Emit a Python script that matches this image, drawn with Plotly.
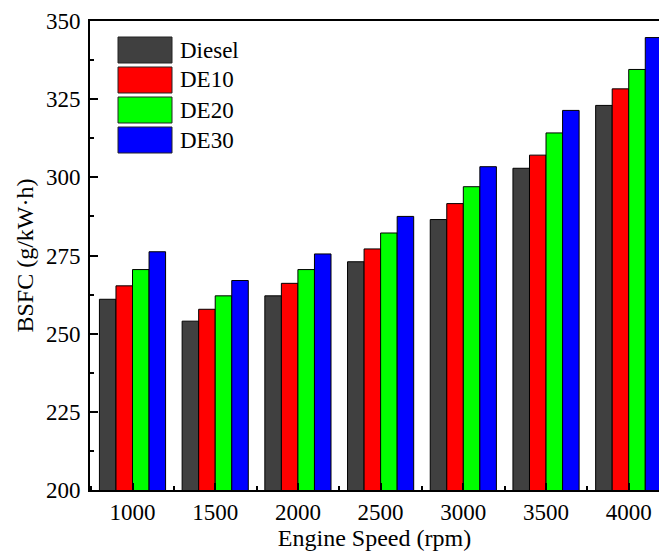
import plotly.graph_objects as go

speeds = ["1000", "1500", "2000", "2500", "3000", "3500", "4000"]
diesel = [261.0, 254.0, 262.1, 273.0, 286.5, 302.9, 323.0]
de10 = [265.3, 257.8, 266.1, 277.1, 291.6, 307.1, 328.3]
de20 = [270.5, 262.1, 270.5, 282.2, 297.0, 314.2, 334.5]
de30 = [276.2, 267.0, 275.5, 287.5, 303.4, 321.4, 344.7]
names = ["Diesel", "DE10", "DE20", "DE30"]
colors = ["#404040", "#ff0000", "#00ff00", "#0000ff"]
series = [diesel, de10, de20, de30]

xpos = list(range(len(speeds)))
font = "Liberation Serif, Times New Roman, serif"

fig = go.Figure()
for n, c, s in zip(names, colors, series):
    fig.add_trace(go.Bar(x=xpos, y=s, name=n, marker=dict(color=c, line=dict(color="#000000", width=1)),
                         showlegend=False))

# manual legend
shapes = []
annotations = []
leg_x0, leg_x1 = 118, 172
for i, (n, c) in enumerate(zip(names, colors)):
    y0 = 37 + i * 30
    shapes.append(dict(type="rect", xref="paper", yref="paper",
                       x0=(leg_x0 - 90) / 569, x1=(leg_x1 - 90) / 569,
                       y0=1 - (y0 + 26 - 21) / 469, y1=1 - (y0 - 21) / 469,
                       fillcolor=c, line=dict(color="#222222", width=1)))
    annotations.append(dict(xref="paper", yref="paper", x=(178 - 90) / 569, y=1 - (y0 + 13 - 21) / 469,
                            text=n, showarrow=False, xanchor="left", yanchor="middle",
                            font=dict(family=font, size=23, color="black")))

fig.update_layout(
    width=659, height=551,
    margin=dict(l=90, r=0, t=21, b=61),
    plot_bgcolor="white", paper_bgcolor="white",
    barmode="group", bargap=0.2, bargroupgap=0,
    font=dict(family=font, size=23, color="black"),
    shapes=shapes, annotations=annotations,
    xaxis=dict(range=[-0.514, 6.366], tickmode="array", tickvals=xpos, ticktext=speeds,
               showline=True, linecolor="black", linewidth=2, mirror=True,
               ticks="inside", ticklen=7, tickwidth=1.5, tickcolor="black",
               minor=dict(tickmode="array", tickvals=[p + 0.5 for p in xpos[:-1]] + [-0.5],
                          ticks="inside", ticklen=4, tickwidth=1.5, tickcolor="black"),
               showgrid=False, zeroline=False,
               title=dict(text="Engine Speed (rpm)", standoff=2, font=dict(size=24)),
               tickfont=dict(size=23)),
    yaxis=dict(range=[200, 350], tickmode="linear", tick0=200, dtick=25,
               showline=True, linecolor="black", linewidth=2,
               ticks="inside", ticklen=8, tickwidth=1.5, tickcolor="black",
               minor=dict(dtick=12.5, ticks="inside", ticklen=4, tickwidth=1.5, tickcolor="black"),
               showgrid=False, zeroline=False, ticklabelstandoff=3,
               title=dict(text="BSFC (g/kW·h)", standoff=6, font=dict(size=24)),
               tickfont=dict(size=23)),
)

fig.write_html("out.html")
